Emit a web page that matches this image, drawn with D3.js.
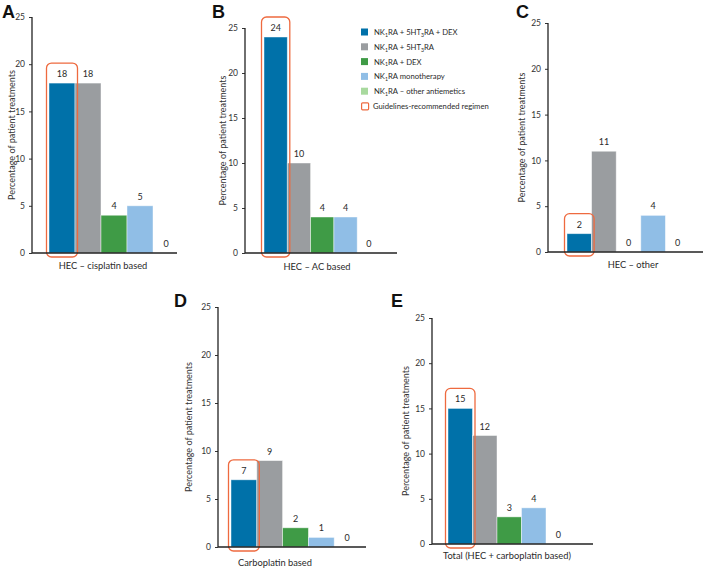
<!DOCTYPE html>
<html>
<head>
<meta charset="utf-8">
<script src="https://cdn.jsdelivr.net/npm/d3@7"></script>
<style>
  body { margin: 0; background: #fff; }
  svg { display: block; font-family: Lato, 'Open Sans', sans-serif; }
</style>
</head>
<body>
<div id="chart"></div>
<script>
// regimens, in bar order
var regimens = ['NK1RA + 5HT3RA + DEX', 'NK1RA + 5HT3RA', 'NK1RA + DEX',
                'NK1RA monotherapy', 'NK1RA \u2013 other antiemetics'];
var regimenColors = ['#0071a9', '#9a9da0', '#3f9b46', '#90bee6', '#a8d99e'];
var guideColor = '#ee6a3f';

var panelLetters = ['A', 'B', 'C', 'D', 'E'];
var panelTitles = ['HEC \u2013 cisplatin based', 'HEC \u2013 AC based', 'HEC \u2013 other',
                   'Carboplatin based', 'Total (HEC + carboplatin based)'];

var valuesA = [18, 18, 4, 5, 0];
var valuesB = [24, 10, 4, 4, 0];
var valuesC = [2, 11, 0, 4, 0];
var valuesD = [7, 9, 2, 1, 0];
var valuesE = [15, 12, 3, 4, 0];

var yTicks = [0, 5, 10, 15, 20, 25];
var yTitle = 'Percentage of patient treatments';

// legend labels split into text / subscript parts
var legendParts = [
	[['NK', 0], ['1', 1], ['RA + 5HT', 0], ['3', 1], ['RA + DEX', 0]],
	[['NK', 0], ['1', 1], ['RA + 5HT', 0], ['3', 1], ['RA', 0]],
	[['NK', 0], ['1', 1], ['RA + DEX', 0]],
	[['NK', 0], ['1', 1], ['RA monotherapy', 0]],
	[['NK', 0], ['1', 1], ['RA \u2013 other antiemetics', 0]],
	[['Guidelines-recommended regimen', 0]]
];

// layout of each panel (pixels)
var layout = [
	{ ax: 32,  y0: 253, y1: 17,  xEnd: 177, bx: 49,  bw: 26,   lx: 103, ly: 269, tx: 12,  cx: 2,   cy: 18 },
	{ ax: 245, y0: 253, y1: 28,  xEnd: 397, bx: 264, bw: 23.3, lx: 317, ly: 270, tx: 223, cx: 212, cy: 18 },
	{ ax: 548, y0: 252, y1: 23,  xEnd: 703, bx: 567, bw: 24.6, lx: 633, ly: 268, tx: 522, cx: 516, cy: 18 },
	{ ax: 218, y0: 547, y1: 307, xEnd: 366, bx: 231, bw: 25.8, lx: 275, ly: 566, tx: 189, cx: 174, cy: 307 },
	{ ax: 432, y0: 544, y1: 318, xEnd: 593, bx: 448, bw: 24.5, lx: 507, ly: 559, tx: 406, cx: 391, cy: 307 }
];

var allValues = [valuesA, valuesB, valuesC, valuesD, valuesE];

var svg = d3.select('#chart').append('svg')
	.attr('width', 709).attr('height', 569);

function drawPanel (i) {
	var L = layout[i], vals = allValues[i];

	var y = d3.scaleLinear().domain([0, 25]).range([L.y0, L.y1]);
	var x = d3.scaleBand().domain(d3.range(5))
		.range([L.bx, L.bx + 5 * L.bw]).paddingInner(0).paddingOuter(0);

	var g = svg.append('g').attr('class', 'panel');

	// bars
	g.selectAll('rect.bar').data(vals).enter().append('rect')
		.attr('class', 'bar')
		.attr('x', function (d, j) { return x(j); })
		.attr('width', x.bandwidth())
		.attr('y', function (d) { return y(d); })
		.attr('height', function (d) { return L.y0 - y(d); })
		.style('fill', function (d, j) { return regimenColors[j]; })
		.style('stroke', 'rgba(255,255,255,0.55)')
		.style('stroke-width', 0.8);

	// value labels
	g.selectAll('text.val').data(vals).enter().append('text')
		.attr('class', 'val')
		.attr('x', function (d, j) { return x(j) + x.bandwidth() / 2; })
		.attr('y', function (d) { return y(d) - 6; })
		.attr('text-anchor', 'middle')
		.style('font-size', '9px')
		.style('fill', '#2a2a2a')
		.text(function (d) { return d; });

	// guidelines-recommended box around first bar
	g.append('rect')
		.attr('x', x(0) - 2.5)
		.attr('width', x.bandwidth() + 5)
		.attr('y', y(vals[0]) - 20)
		.attr('height', L.y0 - y(vals[0]) + 24)
		.attr('rx', 5).attr('ry', 5)
		.style('fill', 'none')
		.style('stroke', guideColor)
		.style('stroke-width', 1.3);

	// y axis
	var yAxis = d3.axisLeft(y).tickValues(yTicks).tickSize(3).tickPadding(4);
	var ga = g.append('g')
		.attr('transform', 'translate(' + L.ax + ',0)')
		.call(yAxis);
	ga.select('.domain').remove();
	ga.selectAll('.tick line').style('stroke', '#333');
	ga.selectAll('.tick text').style('font-size', '8.5px').style('fill', '#333')
		.style('font-family', "Lato, sans-serif");
	g.append('line')
		.attr('x1', L.ax).attr('x2', L.ax)
		.attr('y1', L.y1).attr('y2', L.y0)
		.style('stroke', '#222').style('stroke-width', 1.3);

	// x axis baseline
	g.append('line')
		.attr('x1', L.ax).attr('x2', L.xEnd)
		.attr('y1', L.y0).attr('y2', L.y0)
		.style('stroke', '#222').style('stroke-width', 1.3);

	// category title
	g.append('text')
		.attr('x', L.lx).attr('y', L.ly)
		.attr('text-anchor', 'middle')
		.style('font-size', '9.3px')
		.style('fill', '#2a2a2a')
		.text(panelTitles[i]);

	// y title
	g.append('text')
		.attr('transform', 'translate(' + L.tx + ',' + ((L.y0 + L.y1) / 2) + ') rotate(-90)')
		.attr('text-anchor', 'middle')
		.attr('dy', '0.35em')
		.style('font-size', '9px')
		.style('fill', '#333')
		.text(yTitle);

	// panel letter
	g.append('text')
		.attr('x', L.cx).attr('y', L.cy)
		.style('font-family', "'Liberation Sans', Arial, sans-serif")
		.style('font-weight', 'bold')
		.style('font-size', '18px')
		.style('fill', '#111')
		.text(panelLetters[i]);
}

for (var i = 0; i < 5; i++) { drawPanel(i); }

// legend
var legend = svg.append('g').attr('transform', 'translate(361,32)');
legendParts.forEach(function (parts, k) {
	var row = legend.append('g').attr('transform', 'translate(0,' + (k * 14.8) + ')');
	if (k < 5) {
		row.append('rect')
			.attr('x', 0).attr('y', -3.5).attr('width', 7).attr('height', 7)
			.style('fill', regimenColors[k]);
	} else {
		row.append('rect')
			.attr('x', 0.6).attr('y', -3.2).attr('width', 7).attr('height', 7)
			.attr('rx', 1)
			.style('fill', '#fff').style('stroke', guideColor).style('stroke-width', 1.2);
	}
	var t = row.append('text')
		.attr('x', k < 5 ? 13 : 12).attr('y', 3)
		.style('font-size', '7.7px')
		.style('fill', '#2a2a2a');
	parts.forEach(function (p) {
		var s = t.append('tspan').text(p[0]);
		if (p[1]) {
			s.style('font-size', '5.2px').attr('dy', 1.8);
		} else if (t.selectAll('tspan').size() > 1) {
			s.attr('dy', -1.8);
		}
	});
});
</script>
</body>
</html>
